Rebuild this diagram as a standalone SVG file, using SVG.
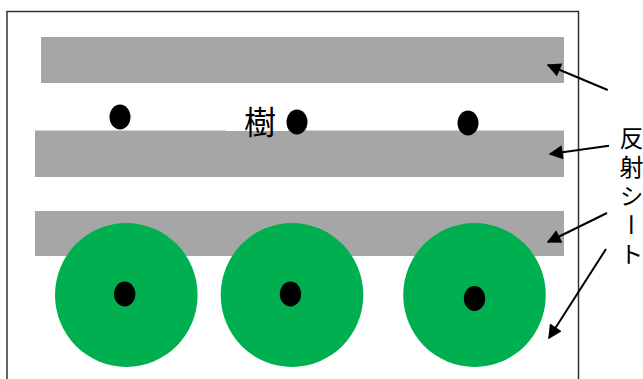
<svg xmlns="http://www.w3.org/2000/svg" width="643" height="379" viewBox="0 0 643 379">
  <style>
    .bar { fill: #A6A6A6; }
    .tree { fill: #00B050; }
    .dot { fill: #000000; }
    .conn { stroke: #000000; stroke-width: 2; fill: none; }
    .lbl { font-family: "Noto Sans CJK JP", "Noto Sans", sans-serif; fill: #000000; }
    .vlbl { font-family: "Liberation Sans", "Noto Sans CJK JP", sans-serif; fill: #000000; }
  </style>
  <defs>
    <marker id="ah" viewBox="0 0 10 10" refX="9" refY="5" markerWidth="7.5" markerHeight="7" markerUnits="strokeWidth" orient="auto">
      <path d="M0,0 L10,5 L0,10 Z" fill="#000000"/>
    </marker>
  </defs>
  <rect width="643" height="379" fill="#FFFFFF"/>
  <g id="frame">
    <rect x="7" y="11.5" width="571.5" height="380" fill="none" stroke="#333333" stroke-width="1.5"/>
  </g>
  <g id="sheet1"><rect class="bar" x="41" y="37" width="523" height="46"/></g>
  <g id="sheet2"><rect class="bar" x="35" y="130.5" width="529" height="46.5"/></g>
  <g id="sheet3"><rect class="bar" x="35" y="211" width="529" height="45"/></g>
  <g id="tree-label">
    <rect x="226" y="98" width="62" height="33" fill="#FFFFFF"/>
    <text class="lbl" x="244" y="134" font-size="32">樹</text>
  </g>
  <g id="dots-top">
    <ellipse class="dot" cx="120" cy="117" rx="10.5" ry="12.5"/>
    <ellipse class="dot" cx="297" cy="122" rx="10.5" ry="12.5"/>
    <ellipse class="dot" cx="468" cy="123" rx="10.5" ry="12.5"/>
  </g>
  <g id="tree1">
    <ellipse class="tree" cx="126.3" cy="295" rx="71.3" ry="72"/>
    <ellipse class="dot" cx="124.7" cy="294" rx="10.7" ry="12.5"/>
  </g>
  <g id="tree2">
    <ellipse class="tree" cx="292" cy="295" rx="71.3" ry="72"/>
    <ellipse class="dot" cx="290.5" cy="294" rx="10.7" ry="12.5"/>
  </g>
  <g id="tree3">
    <ellipse class="tree" cx="474.5" cy="295" rx="71.3" ry="72"/>
    <ellipse class="dot" cx="474.5" cy="298.5" rx="10.7" ry="12.5"/>
  </g>
  <g id="sheet-label">
    <text class="vlbl" x="629.5" y="126" font-size="24" letter-spacing="5" writing-mode="tb">反射シート</text>
  </g>
  <g id="connectors">
    <line class="conn" x1="607.7" y1="90" x2="548" y2="65" marker-end="url(#ah)"/>
    <line class="conn" x1="609" y1="145.7" x2="550" y2="154" marker-end="url(#ah)"/>
    <line class="conn" x1="607" y1="213" x2="548" y2="242" marker-end="url(#ah)"/>
    <line class="conn" x1="606" y1="249" x2="549" y2="338" marker-end="url(#ah)"/>
  </g>
</svg>
